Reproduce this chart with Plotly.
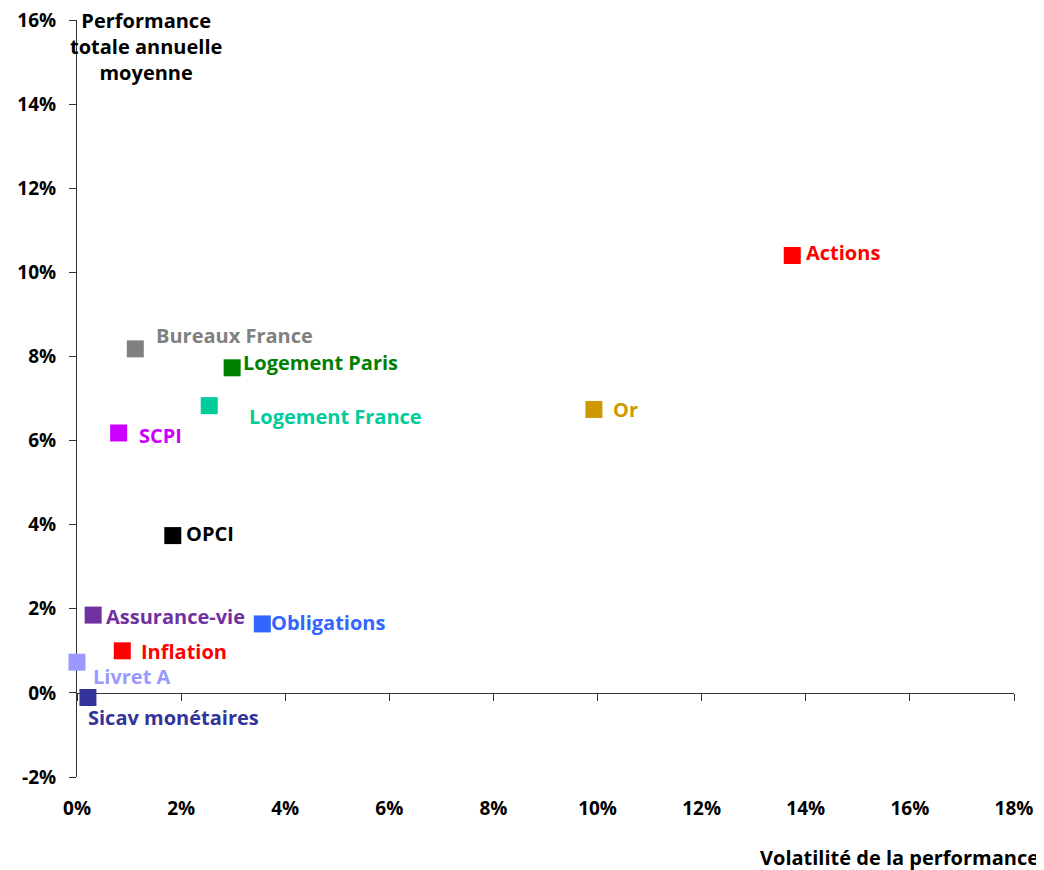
import plotly.graph_objects as go

names = ["Actions", "Bureaux France", "Logement Paris", "Logement France", "Or", "SCPI",
         "OPCI", "Assurance-vie", "Obligations", "Inflation", "Livret A", "Sicav monétaires"]
volatility = [13.74, 1.12, 2.98, 2.54, 9.93, 0.80, 1.84, 0.31, 3.56, 0.87, 0.0, 0.21]
performance = [10.40, 8.18, 7.73, 6.83, 6.74, 6.18, 3.74, 1.85, 1.64, 1.00, 0.73, -0.11]
colors = ["#FF0000", "#808080", "#008000", "#00CC99", "#CC9900", "#CC00FF",
          "#000000", "#7030A0", "#3366FF", "#FF0000", "#9999FF", "#333399"]
# label offsets in pixels (dx right, dy up)
label_dx = [12, 19, 9, 38, 17, 18, 11, 11, 7, 17, 14, -2]
label_dy = [3, 13, 5, -11, 0, -3, 2, -1, 1, -1, -14, -20]

x_ticks = list(range(0, 19, 2))
y_ticks = list(range(-2, 17, 2))

FONT = "Open Sans"

fig = go.Figure()
fig.add_trace(go.Scatter(
    x=volatility, y=performance, mode="markers",
    marker=dict(symbol="square", size=17, color=colors, line=dict(width=0)),
    cliponaxis=False, showlegend=False, hoverinfo="text", text=names,
))
# invisible trace to carry the zero-line axis
fig.add_trace(go.Scatter(x=[None], y=[None], xaxis="x2", showlegend=False, hoverinfo="skip"))

for n, xv, yv, c, dx, dy in zip(names, volatility, performance, colors, label_dx, label_dy):
    fig.add_annotation(x=xv, y=yv, text=n, showarrow=False, xanchor="left", yanchor="middle",
                       xshift=dx, yshift=dy,
                       font=dict(family=FONT, size=20, color=c, weight="bold"))

fig.add_annotation(xref="paper", yref="paper", x=0.0736, y=0.965, yanchor="middle", xanchor="center",
                   text="Performance<br>totale annuelle<br>moyenne", showarrow=False,
                   font=dict(family=FONT, size=20, color="#000000", weight="bold"), align="center")
fig.add_annotation(xref="paper", yref="paper", x=1.0288, y=-0.107, xanchor="right", yanchor="middle",
                   text="Volatilité de la performance", showarrow=False,
                   font=dict(family=FONT, size=20, color="#000000", weight="bold"))

fig.update_layout(
    width=1036, height=862,
    margin=dict(l=69, r=30, t=12, b=93),
    plot_bgcolor="white", paper_bgcolor="white",
    xaxis=dict(range=[0, 18], tickvals=x_ticks, ticktext=[f"{v}%" for v in x_ticks],
               showgrid=False, zeroline=False, showline=False, ticks="", automargin=False,
               ticklabelstandoff=18, ticklabeloverflow="allow",
               tickfont=dict(family=FONT, size=19, color="#000000", weight="bold")),
    xaxis2=dict(range=[0, 18], overlaying="x", anchor="free", position=2 / 18, side="bottom",
                tickvals=x_ticks, showticklabels=False, showgrid=False, zeroline=False,
                showline=True, linecolor="#333333", linewidth=1, automargin=False,
                ticks="outside", ticklen=7, tickcolor="#333333", layer="below traces"),
    yaxis=dict(range=[-2, 16], tickvals=y_ticks, ticktext=[f"{v}%" for v in y_ticks],
               showgrid=False, zeroline=False, showline=True, linecolor="#333333", linewidth=1,
               ticks="outside", ticklen=7, tickcolor="#333333", layer="below traces",
               ticklabelstandoff=9, automargin=False, ticklabeloverflow="allow",
               tickfont=dict(family=FONT, size=19, color="#000000", weight="bold")),
)

fig.write_html("out.html")
